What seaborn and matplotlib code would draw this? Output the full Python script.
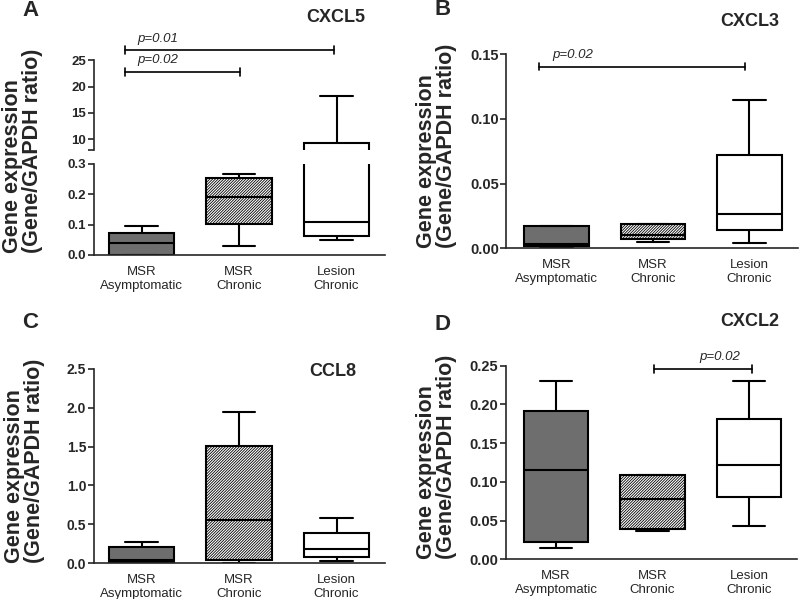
import numpy as np
import pandas as pd
import matplotlib
matplotlib.use('Agg')
import matplotlib.pyplot as plt
import seaborn as sns

sns.set_style('ticks')
plt.rcParams['font.family'] = ['Liberation Sans', 'DejaVu Sans']
plt.rcParams['hatch.linewidth'] = 0.6

groups = ['MSR\nAsymptomatic', 'MSR\nChronic', 'Lesion\nChronic']
fills = {groups[0]: '#6e6e6e', groups[1]: 'white', groups[2]: 'white'}

# min, q1, median, q3, max for each group
cxcl5 = [[0.0, 0.0, 0.040, 0.072, 0.096],
         [0.030, 0.101, 0.190, 0.254, 0.267],
         [0.050, 0.064, 0.110, 9.3, 18.3]]
cxcl3 = [[0.0008, 0.0015, 0.0035, 0.0172, 0.0175],
         [0.0046, 0.0075, 0.0103, 0.0188, 0.0190],
         [0.0039, 0.0142, 0.0265, 0.0724, 0.1147]]
ccl8 = [[0.005, 0.012, 0.040, 0.205, 0.270],
        [0.005, 0.040, 0.560, 1.510, 1.940],
        [0.026, 0.075, 0.175, 0.385, 0.585]]
cxcl2 = [[0.0142, 0.022, 0.1153, 0.192, 0.2306],
         [0.0370, 0.0387, 0.0775, 0.1084, 0.1084],
         [0.043, 0.0809, 0.1218, 0.181, 0.2306]]

ylab = 'Gene expression\n(Gene/GAPDH ratio)'


def draw_box(ax, summary):
    df = pd.DataFrame({'group': np.repeat(groups, 5),
                       'value': np.concatenate(summary)})
    sns.boxplot(data=df, x='group', y='value', hue='group', palette=fills,
                legend=False, whis=(0, 100), width=0.67, linecolor='black',
                linewidth=1.5, ax=ax)
    ax.patches[1].set_hatch('/' * 12)


def style_axes(ax, yticks, ylabels, fs, xlim):
    sns.despine(ax=ax)
    ax.set_xlim(*xlim)
    ax.set_xlabel('')
    ax.set_ylabel('')
    ax.set_yticks(yticks, ylabels)
    ax.tick_params(axis='x', length=0, pad=8, labelsize=9.5)
    ax.tick_params(axis='y', length=4, width=1.2, direction='out', pad=1.5,
                   labelsize=fs)
    for t in ax.yaxis.get_major_ticks():
        t.label1.set_fontweight('bold')
    for s in ['left', 'bottom']:
        ax.spines[s].set_linewidth(1.2)


def bracket(ax, x1, x2, y, h, label, tx):
    kw = dict(color='black', lw=1.2, clip_on=False)
    ax.plot([x1, x2], [y, y], **kw)
    ax.plot([x1, x1], [y - h, y + h], **kw)
    ax.plot([x2, x2], [y - h, y + h], **kw)
    ax.annotate(label, xy=(tx, y), xytext=(0, 4), textcoords='offset points',
                ha='left', va='bottom', fontsize=9.5, style='italic',
                annotation_clip=False)


fig = plt.figure(figsize=(8, 5.99), dpi=100)

# A: CXCL5 with broken y axis
axA_lo = fig.add_axes([0.1175, 0.5743, 0.364, 0.152])
axA_hi = fig.add_axes([0.1175, 0.7496, 0.364, 0.150])
draw_box(axA_lo, cxcl5)
draw_box(axA_hi, cxcl5)
axA_lo.set_ylim(0, 0.3)
axA_hi.set_ylim(8, 25)
style_axes(axA_lo, [0, 0.1, 0.2, 0.3], ['0.0', '0.1', '0.2', '0.3'], 9.5, (-0.49, 2.5))
style_axes(axA_hi, [8, 10, 15, 20, 25], ['', '10', '15', '20', '25'], 9.5, (-0.49, 2.5))
axA_hi.spines['bottom'].set_visible(False)
axA_hi.set_xticks([])
bracket(axA_hi, -0.17, 1.97, 26.9, 0.8, 'p=0.01', -0.04)
bracket(axA_hi, -0.17, 1.01, 22.8, 0.8, 'p=0.02', -0.04)

# B: CXCL3
axB = fig.add_axes([0.633, 0.5855, 0.364, 0.3239])
draw_box(axB, cxcl3)
axB.set_ylim(0, 0.15)
style_axes(axB, [0, 0.05, 0.10, 0.15], ['0.00', '0.05', '0.10', '0.15'], 10.5, (-0.52, 2.5))
bracket(axB, -0.18, 1.95, 0.1405, 0.003, 'p=0.02', -0.04)

# C: CCL8
axC = fig.add_axes([0.1175, 0.0601, 0.364, 0.3239])
draw_box(axC, ccl8)
axC.set_ylim(0, 2.5)
style_axes(axC, [0, 0.5, 1.0, 1.5, 2.0, 2.5],
           ['0.0', '0.5', '1.0', '1.5', '2.0', '2.5'], 10, (-0.49, 2.5))

# D: CXCL2
axD = fig.add_axes([0.6325, 0.0663, 0.364, 0.3232])
draw_box(axD, cxcl2)
axD.set_ylim(0, 0.25)
style_axes(axD, [0, 0.05, 0.10, 0.15, 0.20, 0.25],
           ['0.00', '0.05', '0.10', '0.15', '0.20', '0.25'], 10.5, (-0.52, 2.5))
bracket(axD, 1.01, 2.03, 0.2457, 0.005, 'p=0.02', 1.49)

# y labels
for x, y in [(0.0285, 0.5776), (0.546, 0.586), (0.0305, 0.060), (0.546, 0.0668)]:
    fig.text(x, y, ylab, rotation=90, ha='center', va='bottom',
             multialignment='left', fontsize=15.5, fontweight='bold',
             linespacing=0.95)

# panel letters and gene names
for x, y, t in [(22, 10.5, 'A'), (435, 9.5, 'B'), (22, 322.5, 'C'), (435, 324.5, 'D')]:
    fig.text(x / 800, 1 - y / 599, t, ha='left', va='center',
             fontsize=16, fontweight='bold')
for x, y, t in [(336, 17.5, 'CXCL5'), (750, 22, 'CXCL3'), (333, 371, 'CCL8'), (750, 321, 'CXCL2')]:
    fig.text(x / 800, 1 - y / 599, t, ha='center', va='center',
             fontsize=13, fontweight='bold')

fig.savefig('out.png', dpi=100)
